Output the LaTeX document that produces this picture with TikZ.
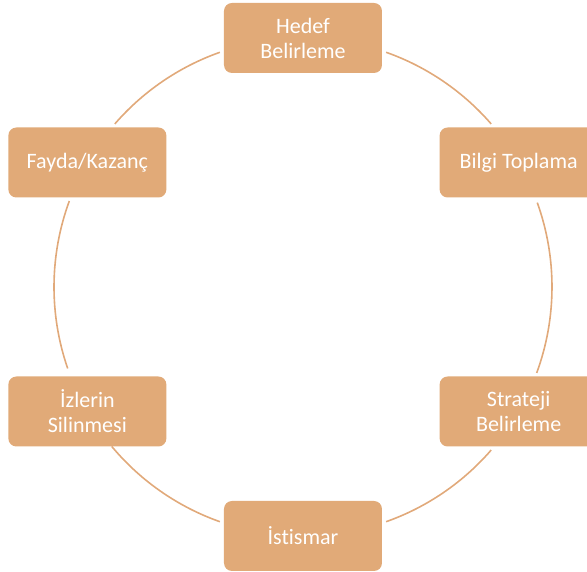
\documentclass[tikz,border=0pt]{standalone}
\usepackage{fontspec}
\setmainfont{Carlito}[Ligatures={NoCommon}]
\definecolor{stepfill}{HTML}{E1AA78}
\definecolor{cycleline}{HTML}{E1A97A}
\begin{document}
\begin{tikzpicture}[x=1pt,y=1pt,
  stepbox/.style={fill=stepfill, draw=none, rounded corners=8pt,
    minimum width=158pt, minimum height=70pt, inner sep=0pt,
    align=center, text=white, font=\fontsize{22}{25}\selectfont},
  cycle/.style={draw=cycleline, line width=1.6pt}]
  % page frame, origin at the centre of the cycle
  \useasboundingbox (-303,287) rectangle (284,-285);
  \coordinate (c) at (0,0);

  % steps of the cycle
  \node[stepbox] (hedef)   at (90:249)  {Hedef\\Belirleme};
  \node[stepbox] (bilgi)   at (30:249)  {Bilgi Toplama};
  \node[stepbox] (strateji) at (-30:249) {Strateji\\Belirleme};
  \node[stepbox] (istismar) at (-90:249) {İstismar};
  \node[stepbox] (izler)   at (210:249) {İzlerin\\Silinmesi};
  \node[stepbox] (fayda)   at (150:249) {Fayda/Kazanç};

  % arcs of the circle between neighbouring steps
  \foreach \a/\b in {40.9/70.5, 109.5/139.1, 159.8/199.1,
                     219.8/250.5, 289.5/319.1, 339.8/379.8}
    \draw[cycle] ([shift={(\a:249)}]c) arc[start angle=\a, end angle=\b, radius=249];
\end{tikzpicture}
\end{document}
